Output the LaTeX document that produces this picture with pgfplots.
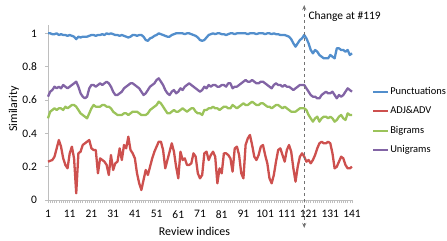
\documentclass[border=0pt]{standalone}
\usepackage{fontspec}
\setmainfont{Carlito}
\usepackage{pgfplots}
\usepackage{pgfplotstable}
\pgfplotsset{compat=1.18}
\usetikzlibrary{arrows.meta}
\definecolor{cP}{RGB}{82,142,204}
\definecolor{cA}{RGB}{205,80,78}
\definecolor{cB}{RGB}{155,195,90}
\definecolor{cU}{RGB}{130,100,165}
\definecolor{axgray}{RGB}{190,190,190}
\pgfplotstableread{
i P A B U
1 1.000 0.23 0.49 0.62
2 1.000 0.235 0.53 0.65
3 0.995 0.24 0.54 0.66
4 0.995 0.26 0.55 0.68
5 1.000 0.31 0.54 0.67
6 0.990 0.36 0.55 0.68
7 0.995 0.32 0.55 0.67
8 0.990 0.25 0.54 0.69
9 0.990 0.21 0.56 0.68
10 0.985 0.19 0.55 0.67
11 0.990 0.28 0.56 0.68
12 0.985 0.32 0.57 0.69
13 0.980 0.25 0.57 0.70
14 0.965 0.04 0.56 0.71
15 0.980 0.28 0.54 0.68
16 0.975 0.29 0.52 0.64
17 0.980 0.33 0.51 0.62
18 0.980 0.34 0.50 0.61
19 0.980 0.35 0.49 0.62
20 0.985 0.36 0.52 0.67
21 0.990 0.31 0.55 0.69
22 0.990 0.30 0.57 0.69
23 0.985 0.30 0.56 0.68
24 0.990 0.16 0.56 0.69
25 0.990 0.25 0.56 0.70
26 0.995 0.24 0.57 0.69
27 0.990 0.23 0.57 0.70
28 1.000 0.21 0.56 0.71
29 0.995 0.15 0.56 0.70
30 1.000 0.27 0.55 0.68
31 0.995 0.18 0.53 0.65
32 0.990 0.22 0.52 0.63
33 0.990 0.23 0.51 0.63
34 0.985 0.31 0.51 0.64
35 0.990 0.24 0.51 0.65
36 0.985 0.33 0.52 0.67
37 0.980 0.31 0.52 0.68
38 0.975 0.38 0.51 0.69
39 0.980 0.30 0.52 0.70
40 0.990 0.28 0.53 0.70
41 0.990 0.25 0.53 0.69
42 0.985 0.16 0.53 0.68
43 0.990 0.10 0.52 0.67
44 0.990 0.06 0.51 0.65
45 0.980 0.12 0.51 0.63
46 0.960 0.18 0.51 0.64
47 0.955 0.15 0.52 0.66
48 0.970 0.20 0.54 0.68
49 0.975 0.25 0.55 0.69
50 0.985 0.29 0.56 0.70
51 0.990 0.32 0.57 0.72
52 1.000 0.35 0.59 0.73
53 0.995 0.35 0.58 0.71
54 0.990 0.30 0.56 0.69
55 0.985 0.19 0.54 0.66
56 0.980 0.24 0.52 0.64
57 0.980 0.29 0.52 0.63
58 0.990 0.34 0.53 0.65
59 0.995 0.29 0.54 0.66
60 1.000 0.20 0.53 0.64
61 1.000 0.13 0.53 0.65
62 1.000 0.29 0.54 0.67
63 1.000 0.24 0.55 0.66
64 0.995 0.25 0.54 0.68
65 1.000 0.21 0.53 0.69
66 1.000 0.21 0.54 0.70
67 0.995 0.22 0.55 0.69
68 0.990 0.28 0.55 0.68
69 0.985 0.26 0.53 0.67
70 0.975 0.16 0.52 0.66
71 0.960 0.13 0.52 0.65
72 0.955 0.15 0.51 0.66
73 0.960 0.28 0.54 0.68
74 0.975 0.29 0.54 0.67
75 0.990 0.24 0.55 0.69
76 0.995 0.27 0.55 0.68
77 1.000 0.29 0.56 0.69
78 0.995 0.26 0.55 0.69
79 1.000 0.10 0.55 0.68
80 1.000 0.19 0.54 0.68
81 0.995 0.16 0.55 0.69
82 0.995 0.28 0.56 0.69
83 0.990 0.28 0.56 0.68
84 0.995 0.27 0.55 0.70
85 1.000 0.25 0.55 0.70
86 1.000 0.17 0.57 0.67
87 0.995 0.31 0.56 0.68
88 1.000 0.32 0.55 0.68
89 1.000 0.27 0.56 0.69
90 1.000 0.16 0.57 0.70
91 1.000 0.13 0.58 0.71
92 1.000 0.33 0.57 0.72
93 0.995 0.37 0.57 0.71
94 1.000 0.39 0.58 0.71
95 1.000 0.33 0.59 0.72
96 1.000 0.26 0.58 0.71
97 0.995 0.24 0.57 0.70
98 1.000 0.27 0.57 0.70
99 1.000 0.32 0.58 0.71
100 1.000 0.33 0.58 0.71
101 0.995 0.27 0.57 0.70
102 1.000 0.22 0.56 0.69
103 1.000 0.13 0.56 0.68
104 0.995 0.10 0.55 0.67
105 1.000 0.15 0.56 0.69
106 0.995 0.23 0.57 0.70
107 0.995 0.30 0.57 0.69
108 0.990 0.31 0.56 0.69
109 0.990 0.27 0.55 0.68
110 0.990 0.23 0.56 0.69
111 0.985 0.30 0.55 0.68
112 0.980 0.33 0.54 0.68
113 0.965 0.29 0.53 0.67
114 0.940 0.19 0.53 0.66
115 0.920 0.11 0.53 0.67
116 0.940 0.20 0.54 0.68
117 0.960 0.26 0.55 0.69
118 0.970 0.28 0.55 0.69
119 0.990 0.26 0.55 0.69
120 0.970 0.23 0.54 0.67
121 0.940 0.24 0.51 0.65
122 0.900 0.22 0.49 0.63
123 0.880 0.24 0.47 0.62
124 0.900 0.27 0.49 0.62
125 0.890 0.31 0.50 0.61
126 0.870 0.34 0.47 0.61
127 0.860 0.35 0.49 0.63
128 0.850 0.34 0.50 0.64
129 0.850 0.34 0.50 0.65
130 0.850 0.35 0.49 0.64
131 0.870 0.34 0.50 0.64
132 0.860 0.28 0.49 0.65
133 0.850 0.19 0.47 0.63
134 0.910 0.20 0.48 0.61
135 0.910 0.23 0.50 0.63
136 0.900 0.26 0.51 0.62
137 0.900 0.25 0.49 0.63
138 0.890 0.21 0.48 0.65
139 0.900 0.19 0.52 0.67
140 0.870 0.19 0.51 0.66
141 0.880 0.20 0.51 0.65
}\data
\begin{document}
\begin{tikzpicture}
\path[use as bounding box] (0bp,0bp) rectangle (447bp,241bp);
\begin{axis}[
  at={(48bp,41bp)}, anchor=south west,
  scale only axis, width=304bp, height=175bp,
  xmin=1, xmax=141, ymin=0, ymax=1.05,
  clip=false,
  axis lines*=left,
  axis line style={draw=axgray, line width=0.8bp},
  xtick={1,11,...,141}, minor xtick={1,...,141},
  ytick={0,0.2,0.4,0.6,0.8,1},
  yticklabels={0,0.2,0.4,0.6,0.8,1},
  tick style={draw=axgray, line width=0.6bp},
  major tick length=3bp, minor tick length=3bp,
  tick align=outside,
  /pgf/number format/assume math mode=true,
  ticklabel style={font=\fontsize{11.5}{13}\selectfont},
  yticklabel style={xshift=-4.5bp},
  xticklabel style={yshift=-4bp},
  xlabel={Review indices}, ylabel={Similarity},
  label style={font=\fontsize{12}{14}\selectfont},
  xlabel style={at={(axis description cs:0.482,-0.181)}, anchor=center},
  ylabel style={at={(axis description cs:-0.112,0.52)}, anchor=center},
  legend style={at={(rel axis cs:1.066,0.451)}, anchor=west, draw=none, fill=none,
    inner sep=0pt, row sep=8.5bp,
    nodes={inner sep=1bp, text height=7bp, text depth=2bp},
    font=\fontsize{10.5}{12}\selectfont},
  legend cell align=left,
  legend image code/.code={\draw[#1,line width=2bp] (0bp,0bp) -- (15bp,0bp);},
  every axis plot/.append style={line width=2.3bp, line join=round},
]
\addplot[cP] table[x=i,y=P] {\data};
\addlegendentry{Punctuations}
\addplot[cA] table[x=i,y=A] {\data};
\addlegendentry{ADJ\&ADV}
\addplot[cB] table[x=i,y=B] {\data};
\addlegendentry{Bigrams}
\addplot[cU] table[x=i,y=U] {\data};
\addlegendentry{Unigrams}
\draw[dashed, black!55, line width=0.8bp, {Stealth[length=5bp,width=4bp]}-{Stealth[length=5bp,width=4bp]}]
  (axis cs:119,1.17) -- (axis cs:119,-0.168);
\node[anchor=west, inner sep=0pt, font=\fontsize{11.5}{13}\selectfont] at (axis cs:120.9,1.098) {Change at \#119};
\end{axis}
\end{tikzpicture}
\end{document}
